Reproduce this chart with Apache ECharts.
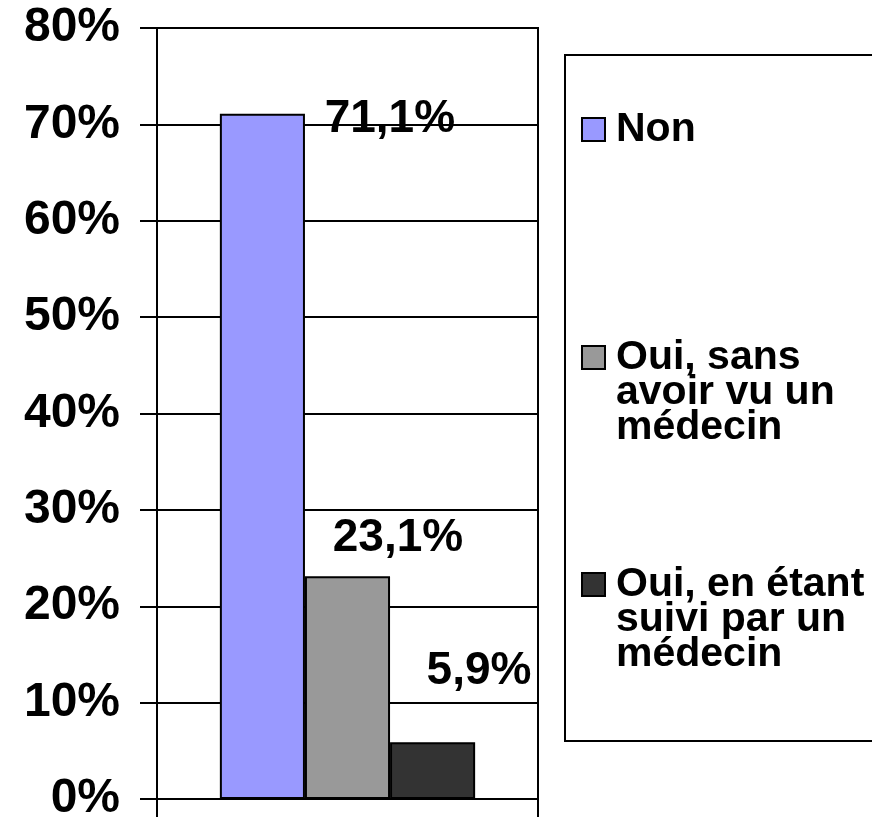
<!DOCTYPE html>
<html>
<head>
<meta charset="utf-8">
<script src="https://cdn.jsdelivr.net/npm/echarts@6/dist/echarts.min.js"></script>
<style>
  html, body { margin: 0; padding: 0; background: #fff; }
  #main { width: 872px; height: 818px; }
</style>
</head>
<body>
<div id="main"></div>
<script>
// données
var seriesNames = ['Non', 'Oui, sans avoir vu un médecin', 'Oui, en étant suivi par un médecin'];
var legendLabels = ['Non', 'Oui, sans\navoir vu un\nmédecin', 'Oui, en étant\nsuivi par un\nmédecin'];
var values = [0.711, 0.231, 0.059];
var category = [''];
var yTicks = [0, 0.1, 0.2, 0.3, 0.4, 0.5, 0.6, 0.7, 0.8];

var colors = ['#9999FF', '#999999', '#333333'];
var labelPos = [[170, 6], [93, -38], [89, -71]];
var legendTops = [109, 267, 494];
var font = "'Liberation Sans', Arial, sans-serif";

var myChart = echarts.init(document.getElementById('main'));

function pct1(v) {
    return (v * 100).toFixed(1).replace('.', ',') + '%';
}

var series = seriesNames.map(function (name, i) {
    return {
        name: name,
        type: 'bar',
        data: [values[i]],
        barGap: 0,
        barCategoryGap: '33%',
        itemStyle: {
            color: colors[i],
            borderColor: '#000',
            borderWidth: 2
        },
        label: {
            show: true,
            position: labelPos[i],
            align: 'center',
            verticalAlign: 'middle',
            formatter: function (p) { return pct1(p.value); },
            fontFamily: font,
            fontWeight: 'bold',
            fontSize: 46,
            color: '#000'
        },
        emphasis: { disabled: true }
    };
});

var legends = seriesNames.map(function (name, i) {
    var lines = legendLabels[i].split('\n');
    // lignes vides en tête : la première ligne reste alignée sur le carré
    var text = new Array(lines.length).join('\n') + legendLabels[i];
    return {
        data: [name],
        orient: 'vertical',
        left: 581,
        top: legendTops[i],
        padding: 0,
        itemWidth: 23,
        itemHeight: 23,
        icon: 'rect',
        selectedMode: false,
        itemStyle: { borderColor: '#000', borderWidth: 2 },
        formatter: function () { return text; },
        textStyle: {
            fontFamily: font,
            fontWeight: 'bold',
            fontSize: 41,
            lineHeight: 35,
            color: '#000',
            padding: [0, 0, 0, 6]
        }
    };
});

var option = {
    animation: false,
    backgroundColor: '#fff',
    grid: {
        left: 157,
        right: 334,
        top: 28,
        bottom: 19,
        outerBoundsMode: 'none',
        containLabel: false,
        show: true,
        borderColor: '#000',
        borderWidth: 2,
        backgroundColor: 'transparent'
    },
    xAxis: {
        type: 'category',
        data: category,
        axisLine: { lineStyle: { color: '#000', width: 2 } },
        axisTick: { show: true, length: 18, interval: 0, lineStyle: { color: '#000', width: 2 } },
        axisLabel: { show: false }
    },
    yAxis: {
        type: 'value',
        min: yTicks[0],
        max: yTicks[yTicks.length - 1],
        interval: 0.1,
        axisLine: { show: true, lineStyle: { color: '#000', width: 2 } },
        axisTick: { show: true, length: 17, lineStyle: { color: '#000', width: 2 } },
        splitLine: { show: true, lineStyle: { color: '#000', width: 2 } },
        axisLabel: {
            margin: 37,
            formatter: function (v) { return Math.round(v * 100) + '%'; },
            fontFamily: font,
            fontWeight: 'bold',
            fontSize: 48,
            color: '#000'
        }
    },
    legend: legends,
    graphic: [{
        type: 'rect',
        shape: { x: 565, y: 55, width: 320, height: 686 },
        style: { fill: 'none', stroke: '#000', lineWidth: 2 },
        z: -1
    }],
    series: series
};

myChart.setOption(option);
</script>
</body>
</html>
